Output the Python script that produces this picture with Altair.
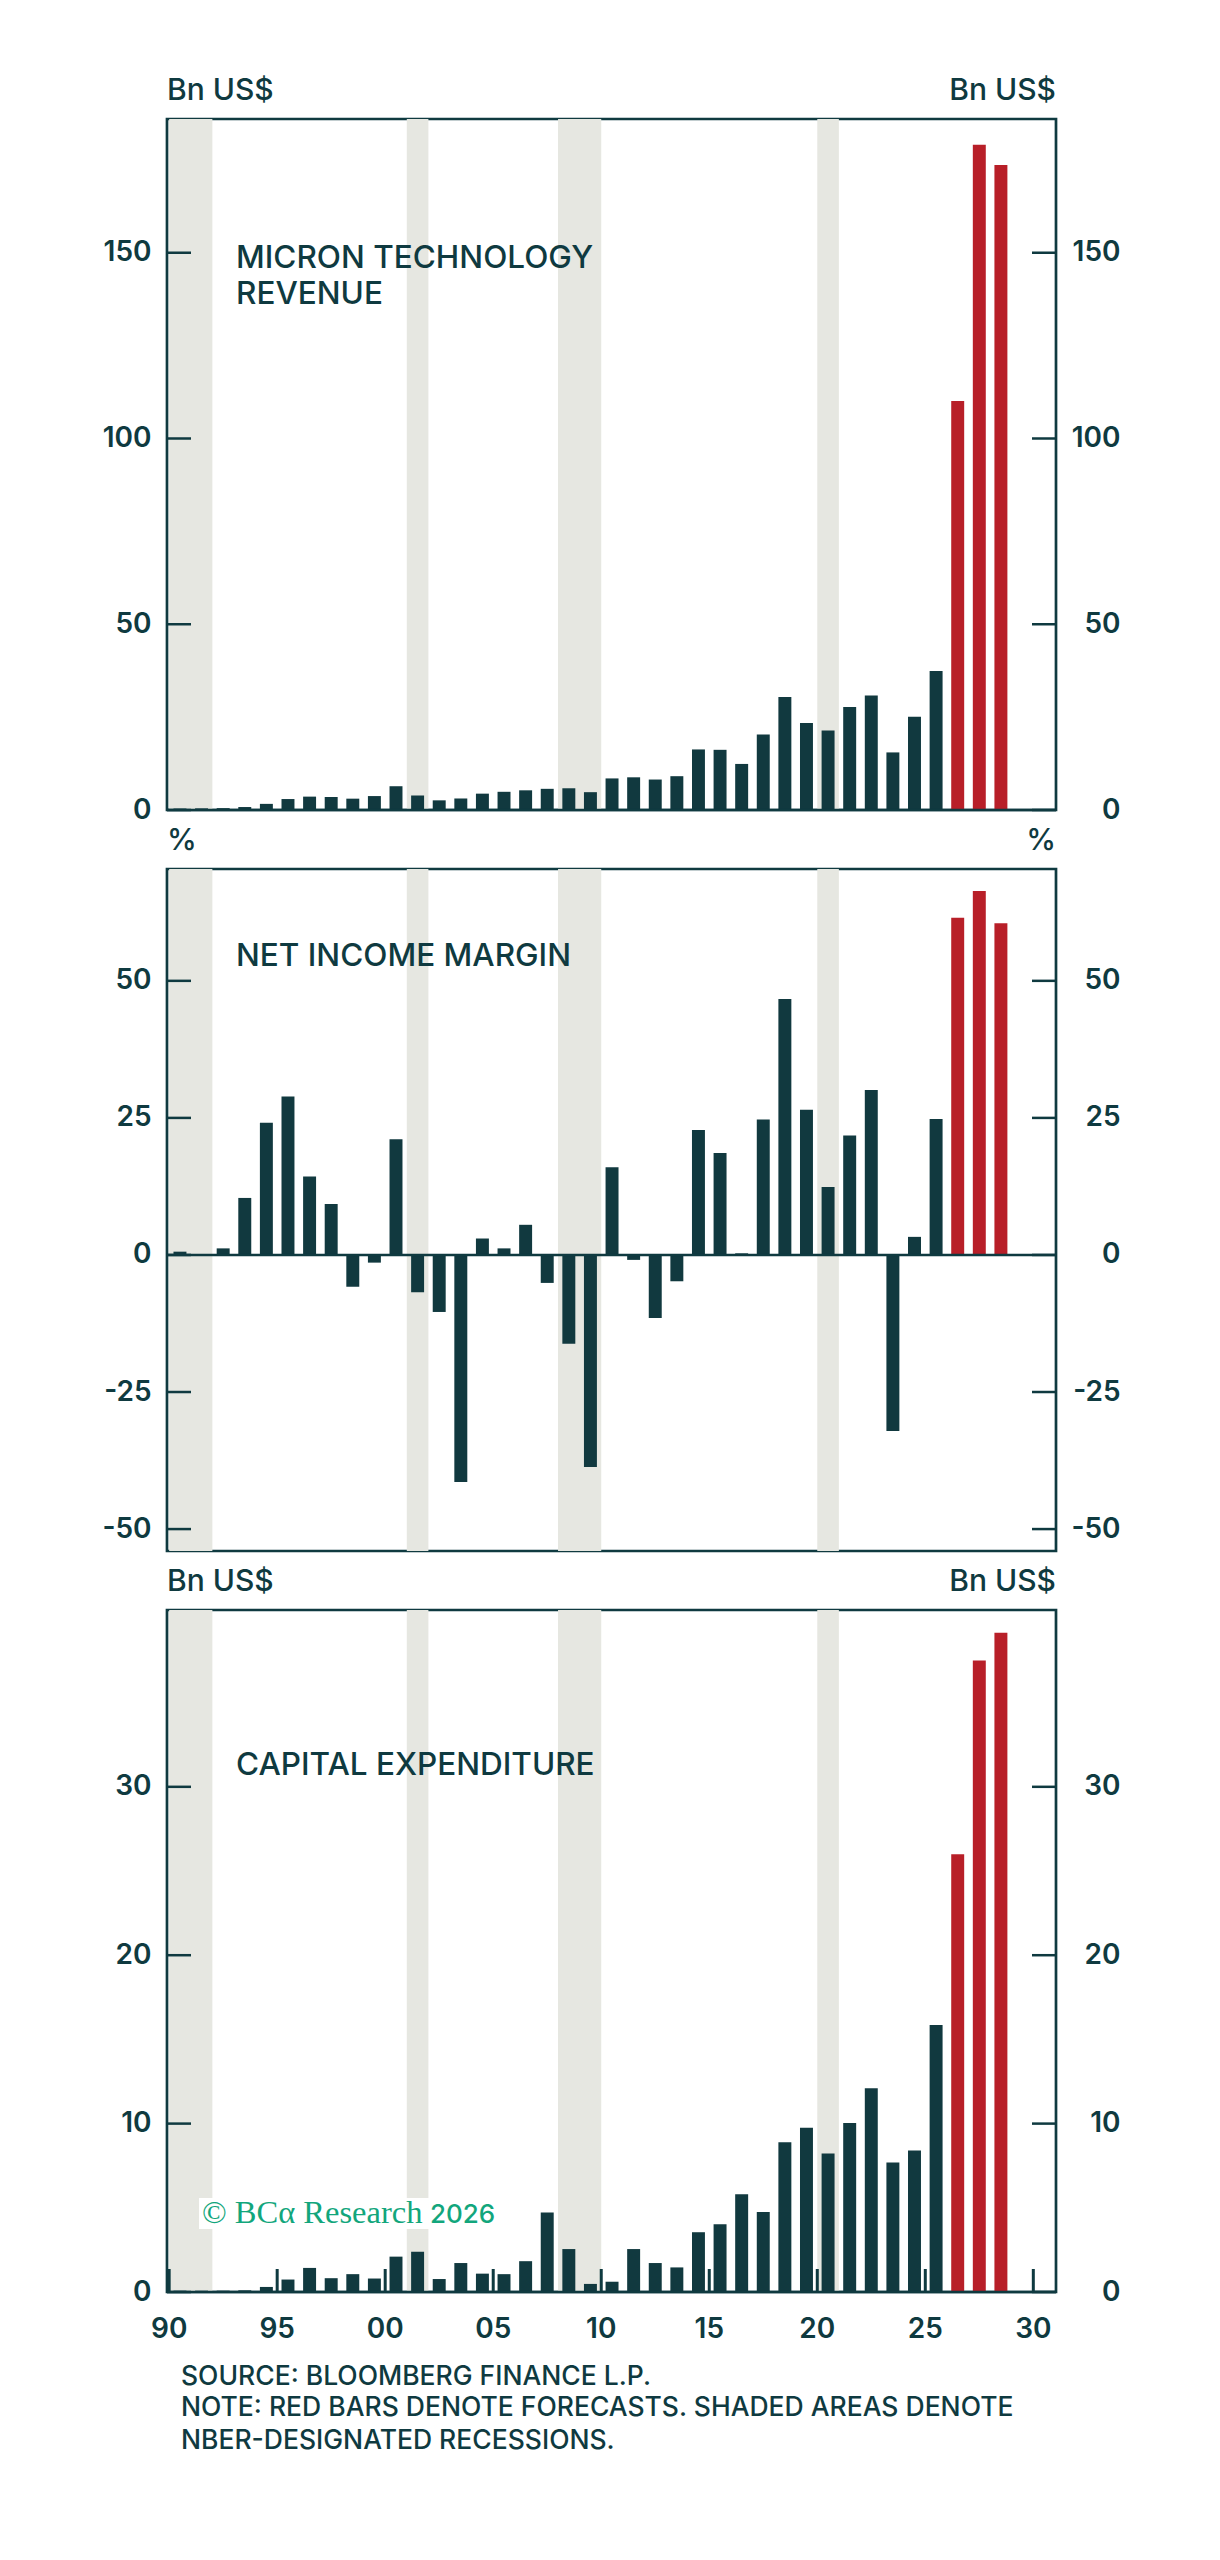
import altair as alt
import pandas as pd

# ---------------- data (fiscal years) ----------------
years = list(range(1990, 2029))
forecast_from = 2026

revenue = [0.4, 0.45, 0.5, 0.8, 1.65, 2.95, 3.6, 3.5, 3.05, 3.75,
           6.4, 3.9, 2.6, 3.1, 4.4, 4.9, 5.3, 5.7, 5.85, 4.8,
           8.5, 8.8, 8.2, 9.1, 16.3, 16.2, 12.4, 20.3, 30.4, 23.4,
           21.4, 27.7, 30.8, 15.5, 25.1, 37.4, 110.1, 179.1, 173.6]

margin = [0.6, 0.0, 1.2, 10.4, 24.1, 28.9, 14.3, 9.3, -5.8, -1.4,
          21.1, -6.8, -10.4, -41.4, 3.0, 1.2, 5.5, -5.1, -16.2, -38.7,
          16.0, -0.9, -11.5, -4.8, 22.8, 18.6, 0.3, 24.7, 46.7, 26.5,
          12.4, 21.8, 30.1, -32.1, 3.3, 24.8, 61.5, 66.4, 60.5]

capex = [0.08, 0.08, 0.08, 0.1, 0.3, 0.74, 1.43, 0.82, 1.06, 0.8,
         2.1, 2.39, 0.77, 1.72, 1.09, 1.06, 1.83, 4.72, 2.55, 0.48,
         0.61, 2.55, 1.72, 1.46, 3.55, 4.03, 5.81, 4.75, 8.89, 9.76,
         8.22, 10.03, 12.1, 7.69, 8.41, 15.86, 26.0, 37.5, 39.15]

recession_start = [1990, 2001, 2008, 2020]
recession_end = [1992, 2002, 2010, 2021]

year_ticks = list(range(1990, 2031, 5))
top_ticks = [0, 50, 100, 150]
mid_ticks = [-50, -25, 0, 25, 50]
bot_ticks = [0, 10, 20, 30]

top_title = ["MICRON TECHNOLOGY", "REVENUE"]
mid_title = ["NET INCOME MARGIN"]
bot_title = ["CAPITAL EXPENDITURE"]
notes = ["SOURCE: BLOOMBERG FINANCE L.P.",
         "NOTE: RED BARS DENOTE FORECASTS. SHADED AREAS DENOTE",
         "NBER-DESIGNATED RECESSIONS."]

# ---------------- style ----------------
W = 889
H_TOP, H_MID, H_BOT = 691, 682, 682
DARK = "#11393f"
RED = "#b81f28"
GREY = "#e6e7e1"
TEXT = "#0f3a40"
GREEN = "#12a67c"
FONT = "Inter"
XDOM = [1989.9, 2031.05]
xscale = alt.Scale(domain=XDOM, nice=False, zero=False)

rec_df = pd.DataFrame({"start": recession_start, "end": recession_end})


def txt(s, x, y, size, align="left", weight=500, color=TEXT, font=FONT,
        baseline="middle"):
    return alt.Chart(pd.DataFrame({"t": [s]})).mark_text(
        align=align, baseline=baseline, font=font, fontSize=size,
        fontWeight=weight, color=color
    ).encode(text="t:N", x=alt.value(x), y=alt.value(y))


def panel(vals, ydom, yticks, h, title_lines, title_y, unit, bottom=False,
          anchor=False):
    df = pd.DataFrame({
        "year": years,
        "value": vals,
        "kind": ["Forecast" if y >= forecast_from else "Actual" for y in years],
    })
    yscale = alt.Scale(domain=ydom, nice=False, zero=False)

    rec = alt.Chart(rec_df).mark_rect(color=GREY, clip=True).encode(
        x=alt.X("start:Q", scale=xscale, axis=None), x2="end:Q")

    left_axis = alt.Axis(orient="left", values=yticks, ticks=False, tickSize=0,
                         domain=False, grid=False, title=None, labelFont=FONT,
                         labelFontSize=28, labelFontWeight=600, labelColor=TEXT,
                         labelPadding=16, labelAlign="right", labelBaseline="middle",
                         labelExpr="'' + datum.value")
    right_axis = alt.Axis(orient="right", values=yticks, ticks=False, tickSize=0,
                          domain=False, grid=False, title=None, labelFont=FONT,
                          labelFontSize=28, labelFontWeight=600, labelColor=TEXT,
                          labelPadding=64, labelAlign="right", labelBaseline="middle",
                          labelExpr="'' + datum.value")

    bars = alt.Chart(df).transform_calculate(
        x0="datum.year + 0.2", x1="datum.year + 0.8"
    ).mark_bar(strokeWidth=0).encode(
        x=alt.X("x0:Q", scale=xscale, axis=None),
        x2="x1:Q",
        y=alt.Y("value:Q", scale=yscale, axis=left_axis),
        y2=alt.datum(0),
        color=alt.Color("kind:N", scale=alt.Scale(domain=["Actual", "Forecast"],
                                                  range=[DARK, RED]), legend=None),
    )

    tdf = pd.DataFrame({"v": yticks})
    lt = alt.Chart(tdf).mark_rule(color=TEXT, strokeWidth=2.5).encode(
        y=alt.Y("v:Q", scale=yscale, axis=None), x=alt.value(0), x2=alt.value(24))
    rt = alt.Chart(tdf).mark_rule(color=TEXT, strokeWidth=2.5).encode(
        y=alt.Y("v:Q", scale=yscale, axis=right_axis), x=alt.value(W - 24), x2=alt.value(W))

    zdf = pd.DataFrame({"v": [0]})
    zero = alt.Chart(zdf).mark_rule(color=TEXT, strokeWidth=2.5).encode(
        y=alt.Y("v:Q", scale=yscale, axis=None), x=alt.value(0), x2=alt.value(W))

    layers = [rec, bars, zero, lt, rt]

    if bottom:
        ydf = pd.DataFrame({"t": year_ticks})
        xt = alt.Chart(ydf).mark_rule(color=TEXT, strokeWidth=3).encode(
            x=alt.X("t:Q", scale=xscale, axis=None),
            y=alt.value(h - 23), y2=alt.value(h))
        layers.append(xt)
        xlab = alt.Chart(ydf).transform_calculate(
            lab="(datum.t % 100 < 10 ? '0' : '') + (datum.t % 100)"
        ).mark_text(font=FONT, fontSize=28, fontWeight=600, color=TEXT,
                    align="center", baseline="middle").encode(
            x=alt.X("t:Q", scale=xscale, axis=None),
            y=alt.value(h + 38), text="lab:N")
        layers.append(xlab)
        # logo
        logo_bg = alt.Chart(pd.DataFrame({"t": [1]})).mark_rect(color="white").encode(
            x=alt.value(32), x2=alt.value(325), y=alt.value(588), y2=alt.value(619))
        layers.append(logo_bg)
        layers.append(txt("\u00a9 BC\u03b1 Research", 35, 613, 32.5, weight=400,
                          color=GREEN, font="Liberation Serif", baseline="alphabetic"))
        layers.append(txt("2026", 263, 613, 26, weight=500, color=GREEN,
                          baseline="alphabetic"))
        for i, line in enumerate(notes):
            layers.append(txt(line, 14, h + [85, 116, 149][i], 26.5, weight=500))

    # panel title
    for i, line in enumerate(title_lines):
        layers.append(txt(line, 69, title_y + 36 * i, 31.5, weight=500))

    # unit labels
    layers.append(txt(unit, 0, -28, 30, weight=500))
    layers.append(txt(unit, W, -28, 30, align="right", weight=500))

    if anchor:
        anc = alt.Chart(pd.DataFrame({"t": [1]})).mark_rule(opacity=0, strokeWidth=1).encode(
            x=alt.value(-157), x2=alt.value(-150), y=alt.value(-109), y2=alt.value(-109))
        layers.append(anc)

    return alt.layer(*layers).resolve_axis(y="independent").properties(width=W, height=h)


top = panel(revenue, [0, 186], top_ticks, H_TOP, top_title, 140, "Bn US$", anchor=True)
mid = panel(margin, [-54, 70.4], mid_ticks, H_MID, mid_title, 88, "%")
bot = panel(capex, [0, 40.5], bot_ticks, H_BOT, bot_title, 156, "Bn US$", bottom=True)

chart = alt.vconcat(top, mid, bot, spacing=59, bounds="flush").properties(
    padding=0, background="white"
).configure_view(stroke=TEXT, strokeWidth=2.7)

chart.save("out.html", embed_options={"renderer": "svg", "actions": False})
